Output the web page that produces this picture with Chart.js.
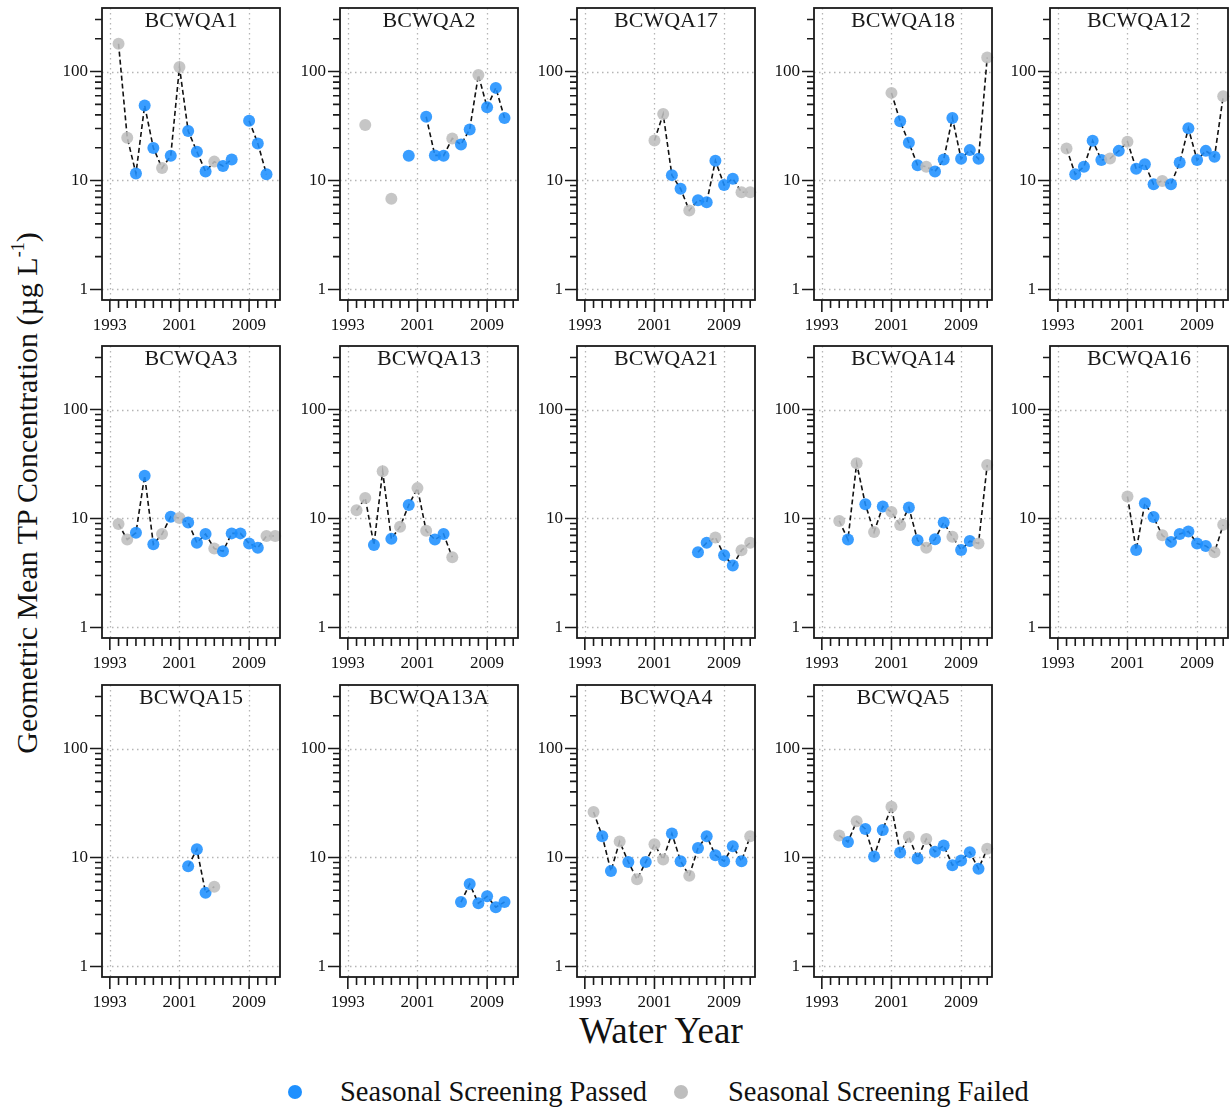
<!DOCTYPE html>
<html>
<head>
<meta charset="utf-8">
<script src="https://cdn.jsdelivr.net/npm/chart.js@4.4.1/dist/chart.umd.min.js"></script>
<style>
  body { margin: 0; background: #fff; }
  #wrap { position: relative; width: 1230px; height: 1109px; overflow: hidden;
          font-family: "Liberation Serif", "Times New Roman", serif; color: #111; }
  #wrap canvas { position: absolute; }
  .ylab { position: absolute; left: 27px; top: 493px; white-space: nowrap; font-size: 30px;
          transform: translate(-50%, -50%) rotate(-90deg); }
  .ylab sup { font-size: 0.6em; vertical-align: 0.75em; line-height: 0; }
  .xlab { position: absolute; left: 661px; top: 1030px; transform: translate(-50%, -50%);
          font-size: 37px; white-space: nowrap; }
  .dot { position: absolute; width: 14px; height: 14px; border-radius: 50%; transform: translate(-50%, -50%); }
  .leg { position: absolute; transform: translateY(-50%); font-size: 28.5px; line-height: 1; white-space: nowrap; }
</style>
</head>
<body>
<div id="wrap">
  <div class="ylab">Geometric Mean TP Concentration (µg L<sup>-1</sup>)</div>
  <div class="xlab">Water Year</div>
  <div class="dot" style="left:295px; top:1092px; background:rgb(30,144,255);"></div>
  <div class="leg" style="left:340px; top:1092px;">Seasonal Screening Passed</div>
  <div class="dot" style="left:681px; top:1092px; background:rgb(190,190,190);"></div>
  <div class="leg" style="left:728px; top:1092px;">Seasonal Screening Failed</div>
</div>
<script>
const _ = null;

// water years on the x axis, one slot per year
const years = [1993, 1994, 1995, 1996, 1997, 1998, 1999, 2000, 2001, 2002,
               2003, 2004, 2005, 2006, 2007, 2008, 2009, 2010, 2011, 2012];
const xLabelYears = [1993, 2001, 2009];
const yLabelValues = [1, 10, 100];
const yMinorValues = [2, 3, 4, 5, 6, 7, 8, 9, 20, 30, 40, 50, 60, 70, 80, 90, 200, 300];

// geometric mean TP (ug/L) per water year, null = no data
// pass: 1 = seasonal screening passed, 0 = failed
const bcwqa1     = [_, 180, 24.7, 11.6, 48.7, 19.9, 13, 16.9, 110, 28.5, 18.4, 12.1, 14.9, 13.6, 15.6, _, 35.4, 21.9, 11.4, _];
const bcwqa1Pass = [_, 0, 0, 1, 1, 1, 0, 1, 0, 1, 1, 1, 0, 1, 1, _, 1, 1, 1, _];

const bcwqa2     = [_, _, 32.3, _, _, 6.8, _, 16.9, _, 38.5, 17, 16.9, 24.3, 21.4, 29.4, 93, 47, 70.8, 37.5, _];
const bcwqa2Pass = [_, _, 0, _, _, 0, _, 1, _, 1, 1, 1, 0, 1, 1, 0, 1, 1, 1, _];

const bcwqa17     = [_, _, _, _, _, _, _, _, 23.3, 40.7, 11.2, 8.4, 5.3, 6.6, 6.3, 15.2, 9.1, 10.4, 7.8, 7.8];
const bcwqa17Pass = [_, _, _, _, _, _, _, _, 0, 0, 1, 1, 0, 1, 1, 1, 1, 1, 0, 0];

const bcwqa18     = [_, _, _, _, _, _, _, _, 63.7, 34.9, 22.2, 13.8, 13.4, 12.1, 15.6, 37.5, 15.8, 19, 15.8, 134.5];
const bcwqa18Pass = [_, _, _, _, _, _, _, _, 0, 1, 1, 1, 0, 1, 1, 1, 1, 1, 1, 0];

const bcwqa12     = [_, 19.7, 11.4, 13.4, 23.2, 15.4, 15.9, 18.7, 22.7, 12.8, 14.1, 9.25, 9.9, 9.25, 14.6, 30.1, 15.4, 18.7, 16.5, 59.3];
const bcwqa12Pass = [_, 0, 1, 1, 1, 1, 0, 1, 0, 1, 1, 1, 0, 1, 1, 1, 1, 1, 1, 0];

const bcwqa3     = [_, 8.9, 6.4, 7.4, 24.7, 5.8, 7.2, 10.4, 10.1, 9.2, 6.0, 7.2, 5.3, 5.0, 7.3, 7.3, 5.9, 5.4, 6.9, 6.9];
const bcwqa3Pass = [_, 0, 0, 1, 1, 1, 0, 1, 0, 1, 1, 1, 0, 1, 1, 1, 1, 1, 0, 0];

const bcwqa13     = [_, 11.9, 15.4, 5.7, 27.1, 6.5, 8.4, 13.3, 19, 7.7, 6.4, 7.2, 4.4, _, _, _, _, _, _, _];
const bcwqa13Pass = [_, 0, 0, 1, 0, 1, 0, 1, 0, 0, 1, 1, 0, _, _, _, _, _, _, _];

const bcwqa21     = [_, _, _, _, _, _, _, _, _, _, _, _, _, 4.9, 6.0, 6.7, 4.6, 3.7, 5.1, 6.0];
const bcwqa21Pass = [_, _, _, _, _, _, _, _, _, _, _, _, _, 1, 1, 0, 1, 1, 0, 0];

const bcwqa14     = [_, _, 9.5, 6.4, 32.1, 13.5, 7.5, 12.9, 11.5, 8.7, 12.6, 6.3, 5.4, 6.45, 9.2, 6.8, 5.15, 6.2, 5.9, 31];
const bcwqa14Pass = [_, _, 0, 1, 0, 1, 0, 1, 0, 0, 1, 1, 0, 1, 1, 0, 1, 1, 0, 0];

const bcwqa16     = [_, _, _, _, _, _, _, _, 15.9, 5.15, 13.8, 10.3, 7.0, 6.1, 7.2, 7.6, 5.9, 5.6, 4.9, 8.75];
const bcwqa16Pass = [_, _, _, _, _, _, _, _, 0, 1, 1, 1, 0, 1, 1, 1, 1, 1, 0, 0];

const bcwqa15     = [_, _, _, _, _, _, _, _, _, 8.3, 11.9, 4.75, 5.4, _, _, _, _, _, _, _];
const bcwqa15Pass = [_, _, _, _, _, _, _, _, _, 1, 1, 1, 0, _, _, _, _, _, _, _];

const bcwqa13a     = [_, _, _, _, _, _, _, _, _, _, _, _, _, 3.9, 5.7, 3.8, 4.4, 3.5, 3.9, _];
const bcwqa13aPass = [_, _, _, _, _, _, _, _, _, _, _, _, _, 1, 1, 1, 1, 1, 1, _];

const bcwqa4     = [_, 26.2, 15.7, 7.5, 14, 9.1, 6.3, 9.1, 13.2, 9.6, 16.6, 9.25, 6.8, 12.2, 15.7, 10.5, 9.25, 12.7, 9.25, 15.7];
const bcwqa4Pass = [_, 0, 1, 1, 0, 1, 0, 1, 0, 0, 1, 1, 0, 1, 1, 1, 1, 1, 1, 0];

const bcwqa5     = [_, _, 15.9, 13.9, 21.5, 18.3, 10.2, 17.9, 29.2, 11.1, 15.5, 9.8, 14.8, 11.3, 12.9, 8.5, 9.4, 11.2, 7.9, 12];
const bcwqa5Pass = [_, _, 0, 1, 0, 1, 1, 1, 0, 1, 0, 1, 0, 1, 1, 1, 1, 1, 1, 0];

const sites = ['BCWQA1', 'BCWQA2', 'BCWQA17', 'BCWQA18', 'BCWQA12',
               'BCWQA3', 'BCWQA13', 'BCWQA21', 'BCWQA14', 'BCWQA16',
               'BCWQA15', 'BCWQA13A', 'BCWQA4', 'BCWQA5'];
const siteValues = [bcwqa1, bcwqa2, bcwqa17, bcwqa18, bcwqa12,
                    bcwqa3, bcwqa13, bcwqa21, bcwqa14, bcwqa16,
                    bcwqa15, bcwqa13a, bcwqa4, bcwqa5];
const sitePass = [bcwqa1Pass, bcwqa2Pass, bcwqa17Pass, bcwqa18Pass, bcwqa12Pass,
                  bcwqa3Pass, bcwqa13Pass, bcwqa21Pass, bcwqa14Pass, bcwqa16Pass,
                  bcwqa15Pass, bcwqa13aPass, bcwqa4Pass, bcwqa5Pass];

const passColor = 'rgba(30, 144, 255, 0.88)';
const failColor = 'rgba(190, 190, 190, 0.88)';
const serif = '"Liberation Serif", "Times New Roman", serif';

// panel frame positions on the page
const frameLeft = [102, 340, 577, 814, 1050];
const frameTop = [8, 346, 685];
const frameW = 178, frameH = 292;
const padL = 70, padT = 6, padR = 8, padB = 45;

// grid, box, tick marks and panel title
const panelDecor = {
    id: 'panelDecor',
    beforeDatasetsDraw(chart) {
        const {ctx, chartArea: a} = chart;
        const xs = chart.scales.x, ys = chart.scales.y;
        ctx.save();
        ctx.strokeStyle = '#b5b5b5';
        ctx.lineWidth = 1.3;
        ctx.setLineDash([1.5, 3.5]);
        ctx.beginPath();
        xLabelYears.forEach(v => {
            const px = Math.round(xs.getPixelForValue(v)) + 0.5;
            ctx.moveTo(px, a.top);
            ctx.lineTo(px, a.bottom);
        });
        yLabelValues.forEach(v => {
            const py = Math.round(ys.getPixelForValue(v)) + 0.5;
            ctx.moveTo(a.left, py);
            ctx.lineTo(a.right, py);
        });
        ctx.stroke();
        ctx.restore();
    },
    afterDraw(chart, args, opts) {
        const {ctx, chartArea: a} = chart;
        const xs = chart.scales.x, ys = chart.scales.y;
        ctx.save();
        ctx.setLineDash([]);
        ctx.strokeStyle = '#1a1a1a';
        ctx.lineWidth = 1.8;
        ctx.strokeRect(a.left, a.top, a.right - a.left, a.bottom - a.top);

        ctx.lineWidth = 1.6;
        ctx.beginPath();
        years.forEach(v => {
            const px = xs.getPixelForValue(v);
            const len = xLabelYears.includes(v) ? 12 : 8;
            ctx.moveTo(px, a.bottom);
            ctx.lineTo(px, a.bottom + len);
        });
        yLabelValues.concat(yMinorValues).forEach(v => {
            const py = ys.getPixelForValue(v);
            const len = yLabelValues.includes(v) ? 12 : 7;
            ctx.moveTo(a.left, py);
            ctx.lineTo(a.left - len, py);
        });
        ctx.stroke();

        ctx.fillStyle = '#1a1a1a';
        ctx.font = '22px ' + serif;
        ctx.textAlign = 'center';
        ctx.textBaseline = 'middle';
        ctx.fillText(opts.title, (a.left + a.right) / 2, a.top + 13);
        ctx.restore();
    }
};

const wrap = document.getElementById('wrap');

sites.forEach((name, i) => {
    const row = Math.floor(i / 5), col = i % 5;
    const canvas = document.createElement('canvas');
    canvas.width = padL + frameW + padR;
    canvas.height = padT + frameH + padB;
    canvas.style.left = (frameLeft[col] - padL) + 'px';
    canvas.style.top = (frameTop[row] - padT) + 'px';
    wrap.appendChild(canvas);

    const vals = siteValues[i];
    const pass = sitePass[i];

    new Chart(canvas.getContext('2d'), {
        type: 'line',
        data: {
            datasets: [{
                data: years.map((yr, k) => ({x: yr, y: vals[k]})),
                borderColor: '#111',
                borderWidth: 1.6,
                borderDash: [5, 3],
                pointRadius: 6,
                pointBorderWidth: 0,
                pointBackgroundColor: c => pass[c.dataIndex] ? passColor : failColor,
                spanGaps: false,
                clip: false,
            }]
        },
        options: {
            responsive: false,
            animation: false,
            events: [],
            layout: {
                padding: {top: padT, right: padR, left: 0, bottom: 0}
            },
            plugins: {
                legend: {display: false},
                tooltip: {enabled: false},
                panelDecor: {title: name}
            },
            scales: {
                x: {
                    type: 'linear',
                    min: 1992.1,
                    max: 2012.55,
                    afterBuildTicks: s => { s.ticks = years.map(v => ({value: v})); },
                    afterFit: s => {
                        s.height = padB;
                        s.paddingLeft = 0; s.paddingRight = 0;
                        s.paddingTop = 0; s.paddingBottom = 0;
                    },
                    grid: {display: false, drawTicks: false},
                    border: {display: false},
                    ticks: {
                        autoSkip: false,
                        maxRotation: 0,
                        padding: 15,
                        color: '#111',
                        font: {family: serif, size: 17},
                        callback: v => xLabelYears.includes(v) ? String(v) : null
                    }
                },
                y: {
                    type: 'logarithmic',
                    min: 0.8,
                    max: 383,
                    afterBuildTicks: s => { s.ticks = yLabelValues.concat(yMinorValues).map(v => ({value: v})); },
                    afterFit: s => {
                        s.width = padL;
                        s.paddingLeft = 0; s.paddingRight = 0;
                        s.paddingTop = 0; s.paddingBottom = 0;
                    },
                    grid: {display: false, drawTicks: false},
                    border: {display: false},
                    ticks: {
                        autoSkip: false,
                        padding: 14,
                        color: '#111',
                        font: {family: serif, size: 17},
                        callback: v => yLabelValues.includes(v) ? String(v) : null
                    }
                }
            }
        },
        plugins: [panelDecor]
    });
});
</script>
</body>
</html>
